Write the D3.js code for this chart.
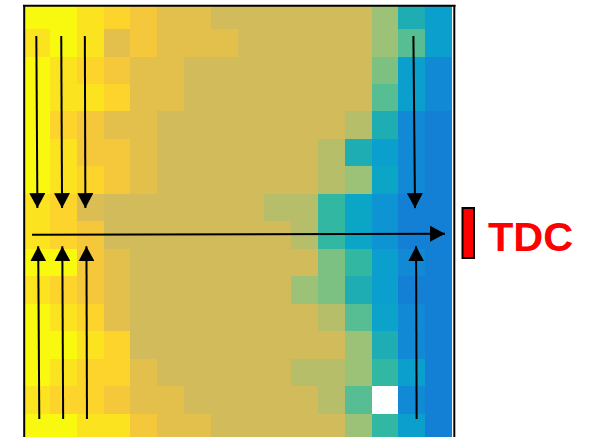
<!DOCTYPE html>
<html>
<head>
<meta charset="utf-8">
<script src="https://cdn.jsdelivr.net/npm/d3@7"></script>
<style>
  html, body { margin: 0; padding: 0; background: #fff; }
  svg { display: block; }
</style>
</head>
<body>
<div id="chart"></div>
<script>
// Grid layout: 16 columns x 16 rows of cells
const columns = d3.range(16);
const rows = d3.range(16);

// Level index of each cell (0 = coolest blue, 16 = brightest yellow); NaN = missing cell
const row00 = [16,16,15,14,13,12,12,11,11,11,11,11,11, 9, 5, 3];
const row01 = [15,16,15,12,13,12,12,12,11,11,11,11,11, 9, 7, 3];
const row02 = [16,15,14,13,12,12,11,11,11,11,11,11,11, 8, 3, 1];
const row03 = [16,15,15,14,12,12,11,11,11,11,11,11,11, 7, 3, 1];
const row04 = [16,14,13,12,12,11,11,11,11,11,11,11,10, 5, 1, 0];
const row05 = [16,15,13,13,12,11,11,11,11,11,11,10, 5, 3, 1, 0];
const row06 = [16,15,14,13,12,11,11,11,11,11,11,10, 9, 4, 1, 0];
const row07 = [15,14,11.5,11,11,11,11,11,11,10,10, 6, 4, 2, 0, 0];
const row08 = [15,14,13,11,11,11,11,11,11,11,10, 6, 4, 2, 0, 0];
const row09 = [16,16,13,12,11,11,11,11,11,11,11, 8, 6, 3, 1, 0];
const row10 = [15,14,13,12,11,11,11,11,11,11, 9, 8, 5, 3, 0, 0];
const row11 = [16,15,14,12,11,11,11,11,11,11,11,10, 7, 3.5, 1, 0];
const row12 = [16,16,15,14,11,11,11,11,11,11,11,11, 9, 5, 1, 0];
const row13 = [16,15,14,14,12,11,11,11,11,11,10,10, 9, 6, 3, 0];
const row14 = [15,14,14,13,12,12,11,11,11,11,11,10, 7,NaN, 1, 0];
const row15 = [16,16,15,15,13,12,12,11,11,11,11,11, 9, 6, 3, 0];
const levels = [row00,row01,row02,row03,row04,row05,row06,row07,
                row08,row09,row10,row11,row12,row13,row14,row15];

// Colour ramp (blue -> teal -> green -> tan -> orange -> yellow)
const rampStops = d3.range(17);
const rampColors = ["#1380d6","#1289d5","#0e93d3","#0a9fcd","#0ba6c6","#1eadb2",
                    "#32b7a3","#56be92","#7cc182","#9bc277","#b7be6a","#d2bb5a",
                    "#e3bf4b","#f5c83b","#fcd42b","#fbe41f","#f9f90f"];

// Flow arrows, in grid units (column, row)
const arrows = [
  {x1: 0.49, y1: 1.25, x2: 0.53, y2: 7.52},
  {x1: 1.42, y1: 1.25, x2: 1.45, y2: 7.52},
  {x1: 2.30, y1: 1.25, x2: 2.32, y2: 7.52},
  {x1: 14.56, y1: 1.25, x2: 14.62, y2: 7.52},
  {x1: 0.60, y1: 15.2, x2: 0.56, y2: 8.91},
  {x1: 1.49, y1: 15.2, x2: 1.46, y2: 8.91},
  {x1: 2.38, y1: 15.2, x2: 2.36, y2: 8.91},
  {x1: 14.68, y1: 15.2, x2: 14.66, y2: 8.91},
  {x1: 0.33, y1: 8.49, x2: 15.74, y2: 8.45}
];

const label = "TDC";

const width = 590, height = 437;
const svg = d3.select("#chart").append("svg")
  .attr("width", width).attr("height", height);

const x = d3.scaleBand().domain(columns).range([23.2, 452]).paddingInner(0).paddingOuter(0);
const y = d3.scaleBand().domain(rows).range([1.6, 441]).paddingInner(0).paddingOuter(0);
const gx = d3.scaleLinear().domain([0, 16]).range([23.2, 452]);
const gy = d3.scaleLinear().domain([0, 16]).range([1.6, 441]);
const color = d3.scaleLinear().domain(rampStops).range(rampColors).clamp(true);

const defs = svg.append("defs");
defs.append("clipPath").attr("id", "plotClip")
  .append("rect").attr("x", 24).attr("y", 5.5).attr("width", 428).attr("height", 440);
defs.append("marker")
  .attr("id", "head")
  .attr("markerUnits", "userSpaceOnUse")
  .attr("viewBox", "0 0 15 16")
  .attr("refX", 15).attr("refY", 8)
  .attr("markerWidth", 15).attr("markerHeight", 16)
  .attr("orient", "auto")
  .append("path").attr("d", "M0,0 L15,8 L0,16 Z").attr("fill", "#000");

const cells = [];
levels.forEach((r, ri) => r.forEach((v, ci) => cells.push({row: ri, col: ci, v})));

const plot = svg.append("g").attr("clip-path", "url(#plotClip)")
  .attr("shape-rendering", "crispEdges");
plot.selectAll("rect.cell").data(cells).join("rect")
  .attr("class", "cell")
  .attr("x", d => x(d.col))
  .attr("y", d => y(d.row))
  .attr("width", x.bandwidth() + 0.6)
  .attr("height", y.bandwidth() + 0.6)
  .attr("fill", d => isNaN(d.v) ? "#ffffff" : color(d.v));

// Re-draw the missing cell on top so neighbours do not overlap it
plot.selectAll("rect.gap").data(cells.filter(d => isNaN(d.v))).join("rect")
  .attr("class", "gap")
  .attr("x", d => x(d.col) + 0.5)
  .attr("y", d => y(d.row) + 0.5)
  .attr("width", x.bandwidth() - 0.5)
  .attr("height", y.bandwidth() - 0.5)
  .attr("fill", "#ffffff");

// Frame
const frame = svg.append("g").attr("stroke", "#000").attr("stroke-width", 2);
frame.append("line").attr("x1", 23).attr("x2", 455.5).attr("y1", 5.8).attr("y2", 5.8);
frame.append("line").attr("x1", 24.2).attr("x2", 24.2).attr("y1", 5).attr("y2", 437);
frame.append("line").attr("x1", 454.3).attr("x2", 454.3).attr("y1", 5).attr("y2", 437);

// Arrows
svg.append("g").selectAll("line").data(arrows).join("line")
  .attr("x1", d => gx(d.x1)).attr("y1", d => gy(d.y1))
  .attr("x2", d => gx(d.x2)).attr("y2", d => gy(d.y2))
  .attr("stroke", "#000").attr("stroke-width", 2)
  .attr("marker-end", "url(#head)");

// TDC marker and label
svg.append("rect")
  .attr("x", 462.5).attr("y", 208).attr("width", 11.5).attr("height", 50)
  .attr("fill", "#ff0000").attr("stroke", "#000").attr("stroke-width", 2);
svg.append("text")
  .attr("x", 488).attr("y", 251)
  .attr("font-family", "'Liberation Sans', Arial, sans-serif")
  .attr("font-weight", "bold").attr("font-size", 41.5)
  .attr("fill", "#ff0000")
  .text(label);
</script>
</body>
</html>
